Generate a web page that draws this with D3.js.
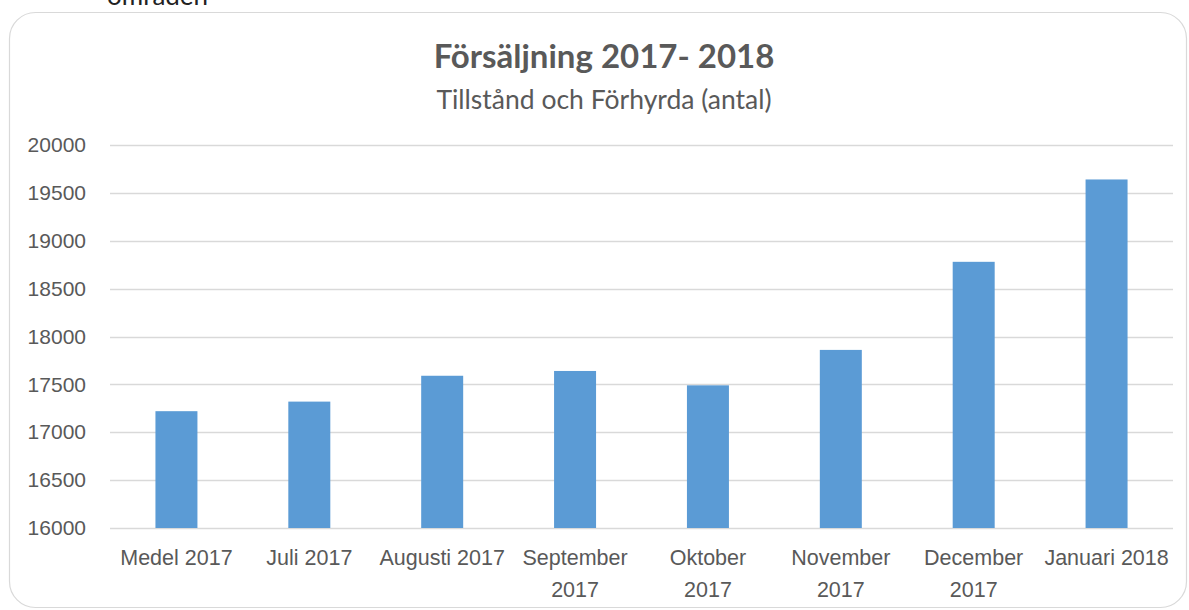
<!DOCTYPE html>
<meta charset="utf-8">
<style>
    body { margin: 0; background: #fff; }
    svg { display: block; font-family: Lato, "Open Sans", sans-serif; }
    .tick text { fill: #595959; }
</style>
<script src="https://cdn.jsdelivr.net/npm/d3@7"></script>
<body>
<svg></svg>
</body>
<script>

    var categories = ['Medel 2017', 'Juli 2017', 'Augusti 2017', 'September 2017',
        'Oktober 2017', 'November 2017', 'December 2017', 'Januari 2018'];
    // how each category label is broken into lines under the axis
    var labelLines = [['Medel 2017'], ['Juli 2017'], ['Augusti 2017'], ['September', '2017'],
        ['Oktober', '2017'], ['November', '2017'], ['December', '2017'], ['Januari 2018']];
    var values = [17220, 17320, 17590, 17640, 17490, 17860, 18780, 19640];
    var yTicks = [16000, 16500, 17000, 17500, 18000, 18500, 19000, 19500, 20000];

    var width = 1189, height = 610;
    var margin = {top: 145, right: 15, bottom: 82, left: 110};

    var svg = d3.select('svg')
            .attr('width', width)
            .attr('height', height);

    // text from the page above, cut by the top edge
    svg.append('text')
            .attr('x', 107)
            .attr('y', 5)
            .style('font-size', '26px')
            .style('fill', '#222')
            .text('områden');

    svg.append('rect')
            .attr('x', 9.5)
            .attr('y', 12.5)
            .attr('width', 1177)
            .attr('height', 595)
            .attr('rx', 26)
            .attr('ry', 26)
            .style('fill', 'none')
            .style('stroke', '#d9d9d9')
            .style('stroke-width', 1.2);

    svg.append('text')
            .attr('x', 604)
            .attr('y', 68)
            .attr('text-anchor', 'middle')
            .style('font-size', '33px')
            .style('font-weight', 'bold')
            .style('fill', '#595959')
            .text('Försäljning 2017- 2018');

    svg.append('text')
            .attr('x', 604)
            .attr('y', 109)
            .attr('text-anchor', 'middle')
            .style('font-size', '26.5px')
            .style('fill', '#595959')
            .text('Tillstånd och Förhyrda (antal)');

    var x = d3.scaleBand()
            .domain(categories)
            .range([margin.left, width - margin.right - 1])
            .paddingInner(0.684)
            .paddingOuter(0.342);

    var y = d3.scaleLinear()
            .domain([16000, 20000])
            .range([height - margin.bottom, margin.top]);

    // gridlines
    svg.append('g')
            .selectAll('line')
            .data(yTicks)
            .join('line')
            .attr('x1', margin.left)
            .attr('x2', width - margin.right - 1)
            .attr('y1', function (d) { return Math.round(y(d)) + 0.5; })
            .attr('y2', function (d) { return Math.round(y(d)) + 0.5; })
            .style('stroke', '#d9d9d9')
            .style('stroke-width', 1.5);

    svg.append('g')
            .selectAll('rect')
            .data(values)
            .join('rect')
            .attr('x', function (d, i) { return x(categories[i]); })
            .attr('width', x.bandwidth())
            .attr('y', function (d) { return y(d); })
            .attr('height', function (d) { return y(16000) - y(d); })
            .style('fill', '#5b9bd5');

    var yAxis = svg.append('g')
            .attr('transform', 'translate(' + margin.left + ',0)')
            .call(d3.axisLeft(y).tickValues(yTicks).tickSize(0).tickPadding(24)
                    .tickFormat(d3.format('d')));
    yAxis.select('.domain').remove();
    yAxis.selectAll('text').style('font-size', '21px');

    var xAxis = svg.append('g')
            .attr('transform', 'translate(0,' + y(16000) + ')')
            .call(d3.axisBottom(x).tickSize(0).tickFormat(''));
    xAxis.select('.domain').remove();
    xAxis.selectAll('.tick text')
            .style('font-size', '21.5px')
            .attr('y', 0)
            .attr('dy', null)
            .each(function (d, i) {
                var t = d3.select(this);
                labelLines[i].forEach(function (line, k) {
                    t.append('tspan')
                            .attr('x', 0)
                            .attr('y', 37 + k * 32)
                            .text(line);
                });
            });

</script>
